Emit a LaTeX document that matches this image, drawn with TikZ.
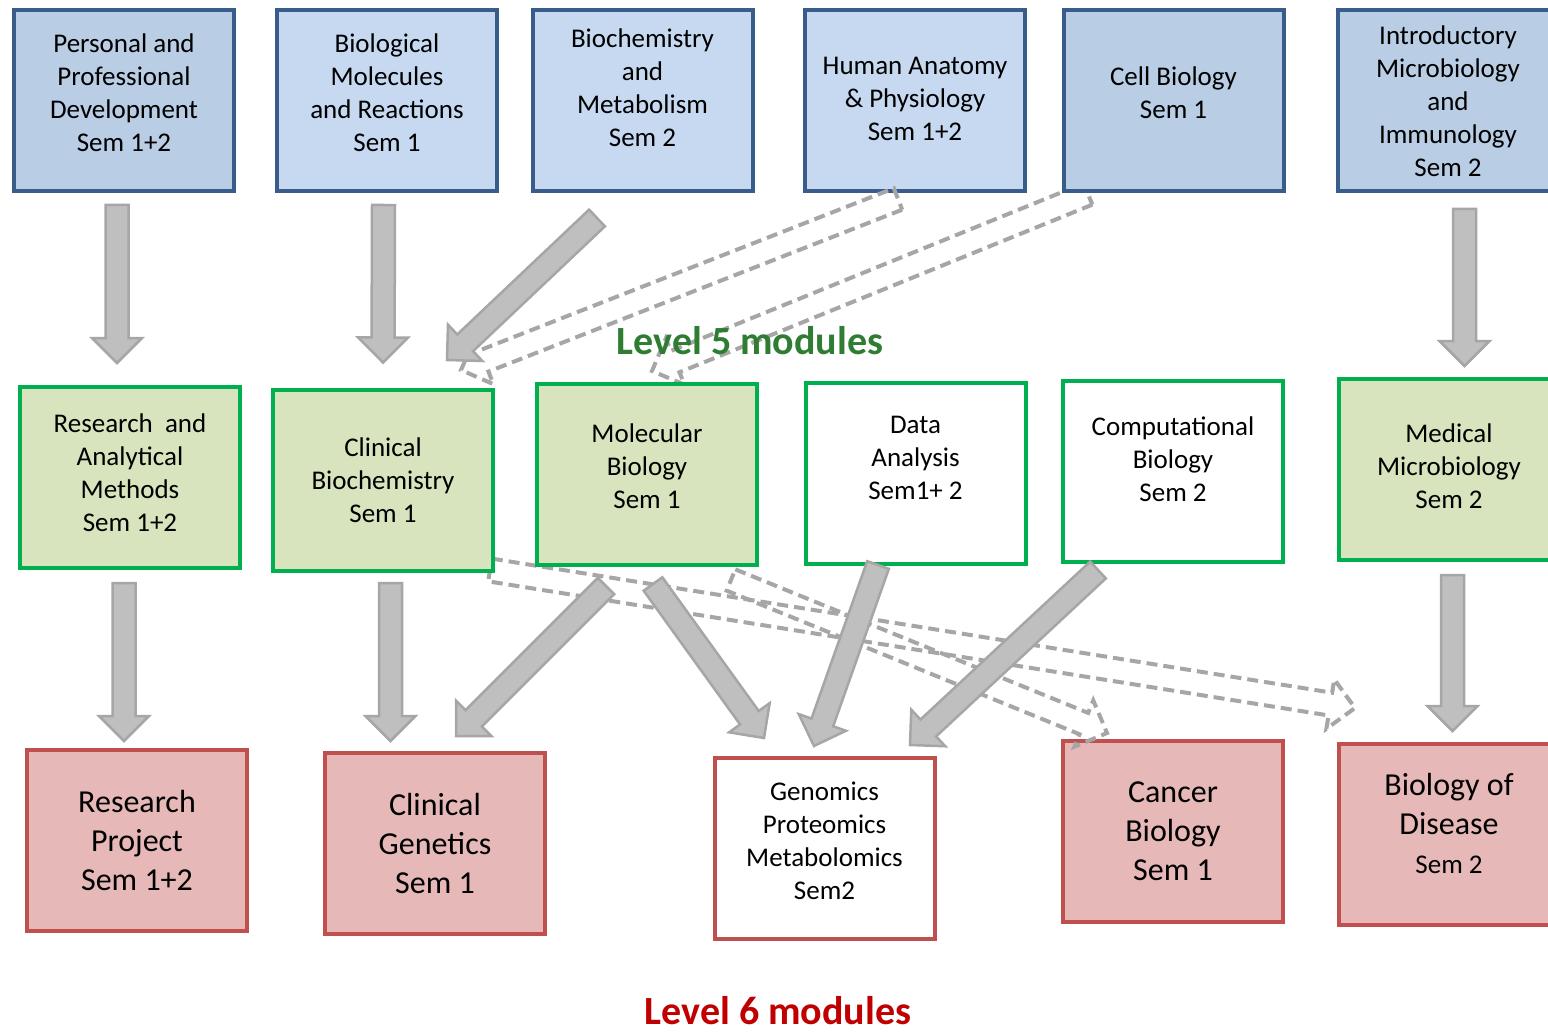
\documentclass[tikz,border=0pt]{standalone}
\usepackage{fontspec}
\setmainfont{Carlito}
\usetikzlibrary{calc,backgrounds}
\definecolor{topline}{RGB}{56,93,138}
\definecolor{topfill}{RGB}{185,205,229}
\definecolor{toplite}{RGB}{198,217,241}
\definecolor{midline}{RGB}{0,176,80}
\definecolor{midfill}{RGB}{215,228,189}
\definecolor{lowline}{RGB}{192,80,77}
\definecolor{lowfill}{RGB}{230,185,184}
\definecolor{arrfill}{RGB}{191,191,191}
\definecolor{arrline}{RGB}{166,166,166}
\definecolor{lvfive}{RGB}{46,125,50}
\definecolor{lvsix}{RGB}{192,0,0}
\tikzset{module/.style={draw,line width=4pt,minimum width=220pt,minimum height=181pt,
    align=center,inner sep=2pt,font=\fontsize{27}{33}\selectfont}}
\tikzset{topmod/.style={module,draw=topline,fill=toplite}}
\tikzset{midmod/.style={module,draw=midline,fill=midfill}}
\tikzset{lowmod/.style={module,draw=lowline,fill=lowfill,font=\fontsize{32}{39}\selectfont}}
\tikzset{fatarrow/.style={fill=arrfill,draw=arrline,line width=2.5pt,line join=miter}}
\tikzset{dasharrow/.style={draw=arrline,line width=4pt,dash pattern=on 11pt off 6pt}}
\tikzset{level/.style={font=\fontsize{40}{48}\selectfont\bfseries}}
\newcommand{\blockarrow}[3][fatarrow]{%
  \path (#2) coordinate (fT) (#3) coordinate (fP);
  \path ($(fP)!25pt!(fT)$) coordinate (fH);
  \draw[#1] ($(fT)!11.5pt!90:(fP)$) -- ($(fH)!11.5pt!90:(fP)$) -- ($(fH)!25pt!90:(fP)$)
    -- (fP) -- ($(fH)!25pt!-90:(fP)$) -- ($(fH)!11.5pt!-90:(fP)$) -- ($(fT)!11.5pt!-90:(fP)$) -- cycle;}

\begin{document}
\begin{tikzpicture}[x=1pt,y=-1pt]
        \useasboundingbox (0,0) rectangle (1548,1035);
        % level 4
        \node(ppd)[topmod,fill=topfill,text depth=16pt] at (124,100.5) {Personal and\\Professional\\Development\\Sem 1+2};
        \node(bmr)[topmod,text depth=16pt] at (387,100.5) {Biological\\Molecules\\and Reactions\\Sem 1};
        \node(bam)[topmod,text depth=26pt] at (642.5,100.5) {Biochemistry\\and\\Metabolism\\Sem 2};
        \node(hap)[topmod,text depth=4pt] at (915,100.5) {Human Anatomy\\\& Physiology\\Sem 1+2};
        \node(cbi)[topmod,fill=topfill,text depth=16pt] at (1173.5,101) {Cell Biology\\Sem 1};
        \node(imi)[topmod,fill=topfill] at (1448,101) {Introductory\\Microbiology\\and\\Immunology\\Sem 2};
        % level 5
        \node(ram)[midmod,text depth=10pt] at (130,477.5) {Research\ \ and\\Analytical\\Methods\\Sem 1+2};
        \node(cbc)[midmod] at (383,480) {Clinical\\Biochemistry\\Sem 1};
        \node(mbi)[midmod,text depth=16pt] at (647,474.5) {Molecular\\Biology\\Sem 1};
        \node(dan)[midmod,fill=white,text depth=32pt] at (915.5,473.5) {Data\\Analysis\\Sem1+ 2};
        \node(cpb)[midmod,fill=white,text depth=24pt] at (1173,471) {Computational\\Biology\\Sem 2};
        \node(mmi)[midmod,text depth=6pt] at (1449,469) {Medical\\Microbiology\\Sem 2};
        % level 6
        \node(rpr)[lowmod] at (137,840.5) {Research\\Project\\Sem 1+2};
        \node(cge)[lowmod] at (435,843.5) {Clinical\\Genetics\\Sem 1};
        \node(gpm)[lowmod,fill=white,font=\fontsize{27}{33}\selectfont,text depth=16pt] at (824.5,848.5) {Genomics\\Proteomics\\Metabolomics\\Sem2};
        \node(cab)[lowmod] at (1173,831) {Cancer\\Biology\\Sem 1};
        \node(bod)[lowmod,text depth=22pt] at (1449,834) {Biology of\\Disease\\{\fontsize{27}{33}\selectfont Sem 2}};
        \node(lv5)[level,text=lvfive] at (750,341) {Level 5 modules};
        \node(lv6)[level,text=lvsix] at (778,1011) {Level 6 modules};
        \begin{pgfonlayer}{background}
          \blockarrow[dasharrow]{$(cbc.south east)+(-5,-2.5)$}{$(bod.north west)+(18,-33.5)$}
          \blockarrow[dasharrow]{$(cbi.south west)+(26.5,0.5)$}{$(mbi.north)+(5,-11)$}
        \end{pgfonlayer}
        \blockarrow[dasharrow]{$(hap.south)+(-17,6)$}{$(cbc.north east)+(-34,-17.5)$}
        \blockarrow[dasharrow]{$(mbi.south east)+(-28,13)$}{$(cab.north west)+(46,-5.5)$}
        \blockarrow{$(ppd.south)+(-7,12)$}{$(ram.north)+(-13,-22)$}
        \blockarrow{$(bmr.south)+(-3.5,12)$}{$(cbc.north)+(0,-25)$}
        \blockarrow{$(imi.south)+(16.5,15.5)$}{$(mmi.north)+(15.5,-10.5)$}
        \blockarrow{$(bam.south)+(-45.5,25)$}{$(cbc.north)+(64,-27.5)$}
        \blockarrow{$(ram.south)+(-6,13)$}{$(rpr.north)+(-13,-7)$}
        \blockarrow{$(cbc.south)+(7.5,10.5)$}{$(cge.north)+(-44.5,-10)$}
        \blockarrow{$(mmi.south)+(3.5,13.5)$}{$(bod.north)+(3.5,-10.5)$}
        \blockarrow{$(mbi.south)+(-41,19)$}{$(cge.north)+(21,-15)$}
        \blockarrow{$(mbi.south)+(6,17)$}{$(gpm.north west)+(51.5,-18)$}
        \blockarrow{$(dan.south)+(-37.5,-1)$}{$(gpm.north)+(-10.5,-10)$}
        \blockarrow{$(cpb.south west)+(37,6.5)$}{$(gpm.north east)+(-26.5,-11)$}
      \end{tikzpicture}
\end{document}
